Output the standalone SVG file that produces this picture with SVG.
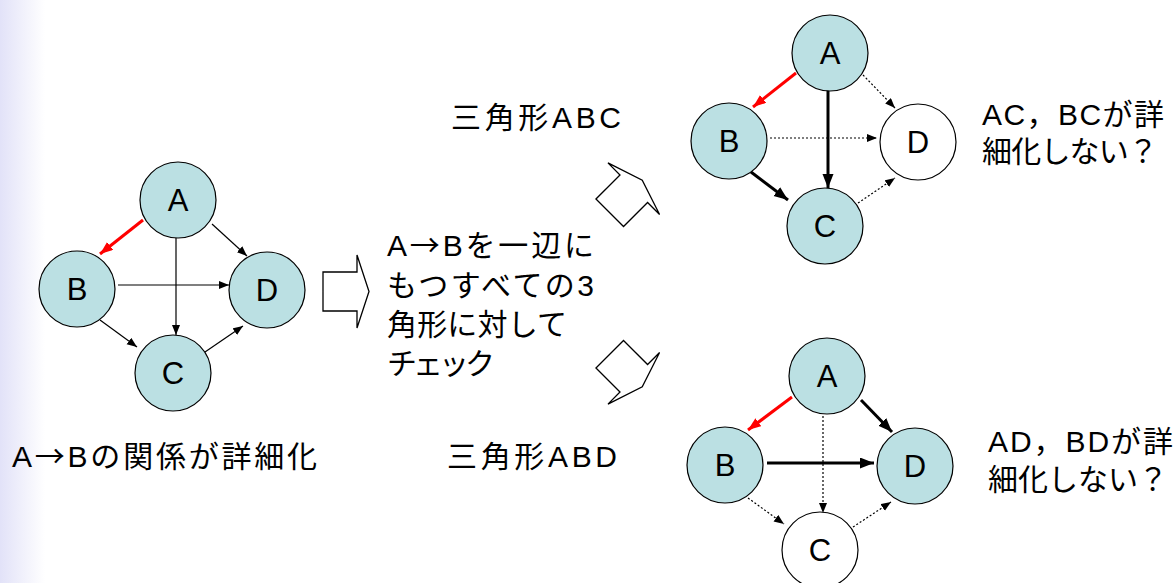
<svg xmlns="http://www.w3.org/2000/svg" width="1176" height="583" viewBox="0 0 1176 583">
<defs>
<linearGradient id="bg" x1="0" y1="0" x2="45" y2="0" gradientUnits="userSpaceOnUse">
<stop offset="0" stop-color="#E2E2F8"/>
<stop offset="1" stop-color="#FFFFFF"/>
</linearGradient>
<marker id="ah" markerUnits="userSpaceOnUse" markerWidth="11" markerHeight="9" refX="10" refY="4" orient="auto">
<path d="M0,0 L10,4 L0,8 Z" fill="#000"/>
</marker>
<marker id="ahb" markerUnits="userSpaceOnUse" markerWidth="15" markerHeight="12" refX="14" refY="5.5" orient="auto">
<path d="M0,0 L14,5.5 L0,11 Z" fill="#000"/>
</marker>
<marker id="ahr" markerUnits="userSpaceOnUse" markerWidth="14" markerHeight="11" refX="13" refY="5" orient="auto">
<path d="M0,0 L13,5 L0,10 Z" fill="#FF0000"/>
</marker>
<path id="blk" d="M-23,-19.5 L11,-19.5 L11,-36.5 L23,0 L11,36.5 L11,19.5 L-23,19.5 Z"/>
</defs>
<style>
.n{stroke:#000;stroke-width:1.2}
.f{fill:#BBE0E3}
.w{fill:#FFFFFF}
.nt{font-family:"Liberation Sans","Noto Sans CJK JP",sans-serif;font-size:31px;fill:#000;text-anchor:middle}
.t{font-family:"Liberation Sans","Noto Sans CJK JP",sans-serif;font-size:30px;fill:#000}
.ar{font-family:"Noto Sans CJK JP",sans-serif}
.e{stroke:#000;stroke-width:1.2;fill:none;marker-end:url(#ah)}
.d{stroke:#000;stroke-width:1.2;stroke-dasharray:2 2;fill:none;marker-end:url(#ah)}
.b{stroke:#000;stroke-width:3;fill:none;marker-end:url(#ahb)}
.r{stroke:#FF0000;stroke-width:3;fill:none;marker-end:url(#ahr)}
.ha{fill:#FFFFFF;stroke:#000;stroke-width:1.3}
</style>
<rect x="0" y="0" width="1176" height="583" fill="#FFFFFF"/>
<rect x="0" y="0" width="46" height="583" fill="url(#bg)"/>

<g id="connectors">
<line class="r" x1="143" y1="220" x2="100" y2="254"/>
<line class="e" x1="212" y1="224" x2="247" y2="256"/>
<line class="e" x1="176" y1="238" x2="176" y2="335"/>
<line class="e" x1="118" y1="285" x2="229" y2="285"/>
<line class="e" x1="100" y1="320" x2="137" y2="347"/>
<line class="e" x1="205" y1="352" x2="243" y2="326"/>

<line class="r" x1="796" y1="73" x2="753" y2="107"/>
<line class="d" x1="863" y1="75" x2="895" y2="108"/>
<line class="b" x1="828" y1="90" x2="828" y2="188"/>
<line class="d" x1="770" y1="138" x2="877" y2="138"/>
<line class="b" x1="751" y1="172" x2="788" y2="200"/>
<line class="d" x1="858" y1="203" x2="895" y2="178"/>

<line class="r" x1="792" y1="397" x2="748" y2="430"/>
<line class="b" x1="861" y1="400" x2="892" y2="432"/>
<line class="d" x1="823" y1="416" x2="823" y2="513"/>
<line class="b" x1="767" y1="463" x2="874" y2="463"/>
<line class="d" x1="748" y1="498" x2="784" y2="524"/>
<line class="d" x1="853" y1="527" x2="891" y2="502"/>
</g>

<g id="L-A"><circle class="n f" cx="178" cy="200" r="38"/><text class="nt" x="178" y="211">A</text></g>
<g id="L-B"><circle class="n f" cx="77" cy="289" r="38"/><text class="nt" x="77" y="300">B</text></g>
<g id="L-D"><circle class="n f" cx="267" cy="290" r="38"/><text class="nt" x="267" y="301">D</text></g>
<g id="L-C"><circle class="n f" cx="173" cy="373" r="38"/><text class="nt" x="173" y="384">C</text></g>

<g id="U-A"><circle class="n f" cx="830" cy="53" r="38"/><text class="nt" x="830" y="64">A</text></g>
<g id="U-B"><circle class="n f" cx="729" cy="141" r="38"/><text class="nt" x="729" y="152">B</text></g>
<g id="U-D"><circle class="n w" cx="918" cy="142" r="38"/><text class="nt" x="918" y="153">D</text></g>
<g id="U-C"><circle class="n f" cx="825" cy="226" r="38"/><text class="nt" x="825" y="237">C</text></g>

<g id="D-A"><circle class="n f" cx="827" cy="376" r="38"/><text class="nt" x="827" y="387">A</text></g>
<g id="D-B"><circle class="n f" cx="725" cy="465" r="38"/><text class="nt" x="725" y="476">B</text></g>
<g id="D-D"><circle class="n f" cx="915" cy="466" r="38"/><text class="nt" x="915" y="477">D</text></g>
<g id="D-C"><circle class="n w" cx="820" cy="550" r="38"/><text class="nt" x="820" y="561">C</text></g>

<g id="block-arrows">
<use href="#blk" class="ha" transform="translate(346,291.5)"/>
<use href="#blk" class="ha" transform="translate(626,196.5) rotate(-45)"/>
<use href="#blk" class="ha" transform="translate(626,370.5) rotate(45)"/>
</g>

<g id="labels">
<text class="t" x="12" y="467" textLength="305" lengthAdjust="spacing">A<tspan class="ar">→</tspan>Bの関係が詳細化</text>
<text class="t" x="387" y="256" textLength="207" lengthAdjust="spacing">A<tspan class="ar">→</tspan>Bを一辺に</text>
<text class="t" x="387" y="296" textLength="207" lengthAdjust="spacing">もつすべての3</text>
<text class="t" x="387" y="335" textLength="180" lengthAdjust="spacing">角形に対して</text>
<text class="t" x="387" y="374" textLength="108" lengthAdjust="spacing">チェック</text>
<text class="t" x="451" y="128" textLength="170" lengthAdjust="spacing">三角形ABC</text>
<text class="t" x="447" y="467" textLength="170" lengthAdjust="spacing">三角形ABD</text>
<text class="t" x="982" y="125" textLength="182" lengthAdjust="spacing">AC，BCが詳</text>
<text class="t" x="982" y="162" textLength="176" lengthAdjust="spacing">細化しない？</text>
<text class="t" x="988" y="452" textLength="185" lengthAdjust="spacing">AD，BDが詳</text>
<text class="t" x="988" y="490" textLength="180" lengthAdjust="spacing">細化しない？</text>
</g>
</svg>
